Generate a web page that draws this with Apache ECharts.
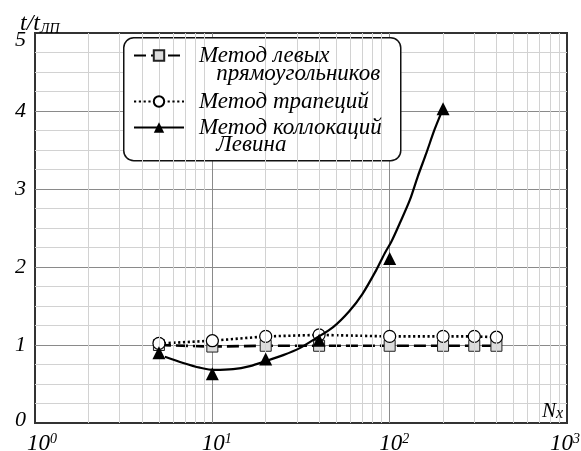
<!DOCTYPE html>
<html><head><meta charset="utf-8">
<script src="https://cdn.jsdelivr.net/npm/echarts@6/dist/echarts.min.js"></script>
<style>html,body{margin:0;padding:0;background:#fff}#c{width:581px;height:451px}</style>
</head><body><div id="c"></div>
<script>
// Data
const nLeft = [5, 10, 20, 40, 100, 200, 300, 400];
const tLeft = [1.0, 0.98, 0.99, 0.99, 0.99, 0.99, 0.99, 0.99];
const nTrap = [5, 10, 20, 40, 100, 200, 300, 400];
const tTrap = [1.02, 1.055, 1.11, 1.13, 1.11, 1.11, 1.11, 1.10];
const nLevin = [5, 10, 20, 40, 100, 200];
const tLevin = [0.90, 0.63, 0.82, 1.06, 2.11, 4.03];
// fitted curve for Levin method
const nFit = [5.4, 6.85, 8.5, 10.3, 13.1, 16.3, 19.8, 25.1, 31.1, 38.6, 48, 59, 70, 84, 94, 102, 114, 130, 144, 161, 179, 200];
const tFit = [0.85, 0.77, 0.71, 0.68, 0.69, 0.73, 0.79, 0.87, 0.96, 1.09, 1.23, 1.43, 1.65, 1.96, 2.18, 2.32, 2.56, 2.86, 3.16, 3.46, 3.76, 4.03];
const minorGridX = [2,3,4,5,6,7,8,9,20,30,40,50,60,70,80,90,200,300,400,500,600,700,800,900];
const xTickValues = [1, 10, 100, 1000];
const yTickValues = [0, 1, 2, 3, 4, 5];
const names = ['Метод левых\n   прямоугольников', 'Метод трапеций', 'Метод коллокаций\n   Левина'];

const FONT = 'Liberation Serif';
const zip = (a, b) => a.map((v, i) => [v, b[i]]);
const it = (size, extra) => Object.assign({fontFamily: FONT, fontStyle: 'italic', fontWeight: 'normal', fontSize: size, color: '#000'}, extra || {});

const chart = echarts.init(document.getElementById('c'), null, {renderer: 'canvas'});
const baseLegend = {
  orient: 'vertical', padding: 0, itemWidth: 50, itemHeight: 13, z: 10, selectedMode: false,
  textStyle: it(23, {lineHeight: 18, padding: [0, 0, 0, 10]})
};
const xMin = xTickValues[0], xMax = xTickValues[xTickValues.length - 1];
const yMin = yTickValues[0], yMax = yTickValues[yTickValues.length - 1];
chart.setOption({
  animation: false,
  title: [
    {left: 15, top: 7, text: '{t|t/t}{s|ЛП}',
     textStyle: {fontWeight: 'normal', rich: {t: it(24), s: it(14, {verticalAlign: 'bottom'})}}},
    {left: 537, top: 396, text: '{n|N}{s|x}',
     textStyle: {fontWeight: 'normal', rich: {n: it(21), s: it(16, {verticalAlign: 'bottom'})}}}
  ],
  grid: {left: 35, right: 14, top: 33, bottom: 28, show: true, borderColor: '#333', borderWidth: 2,
         containLabel: false, outerBoundsMode: 'none'},
  xAxis: {
    type: 'log', logBase: 10, min: xMin, max: xMax,
    axisLine: {show: false}, axisTick: {show: false},
    axisLabel: {
      margin: 9, color: '#000',
      formatter: v => {
        const e = Math.round(Math.log10(v));
        if (v === xMin) return '{b0|10}{s|' + e + '}';
        if (v === xMax) return '{b|10}{s3|' + e + '}';
        return '{b1|10}{s|' + e + '}';
      },
      rich: {
        b: it(23), b0: it(23, {padding: [0, 0, 0, 14]}), b1: it(23, {padding: [0, 0, 0, 9]}),
        s: it(14, {verticalAlign: 'top'}), s3: it(14, {verticalAlign: 'top', padding: [0, 4, 0, 0]})
      }
    },
    splitLine: {show: true, showMinLine: false, showMaxLine: false, lineStyle: {color: '#8a8a8a', width: 1}}
  },
  yAxis: {
    type: 'value', min: yMin, max: yMax, interval: 1,
    axisLine: {show: false}, axisTick: {show: false},
    axisLabel: {
      margin: 9, color: '#000',
      formatter: v => v === yMax ? '{lo|' + v + '}' : (v === yMin ? '{hi|' + v + '}' : '{n|' + v + '}'),
      rich: {n: it(22), lo: it(22, {padding: [14, 0, 0, 0]}), hi: it(22, {padding: [0, 0, 5, 0]})}
    },
    splitLine: {show: true, showMinLine: false, showMaxLine: false, lineStyle: {color: '#8a8a8a', width: 1}},
    minorTick: {show: false, splitNumber: 4},
    minorSplitLine: {show: true, lineStyle: {color: '#d2d2d2', width: 1}}
  },
  legend: [
    Object.assign({}, baseLegend, {left: 133, top: 26, formatter: n => ' \n' + n, data: [{name: names[0]}]}),
    Object.assign({}, baseLegend, {left: 133, top: 90, data: [{name: names[1]}]}),
    Object.assign({}, baseLegend, {left: 133, top: 99, textStyle: it(23, {lineHeight: 17, padding: [0, 0, 0, 10]}),
      formatter: n => ' \n' + n, data: [{name: names[2],
      lineStyle: {width: 2, color: '#000', opacity: 1, type: 'solid'}}]})
  ],
  graphic: [{
    type: 'rect', left: 123, top: 37, z: 3,
    shape: {width: 277, height: 123, r: 10},
    style: {fill: '#fff', stroke: '#111', lineWidth: 1.5}
  }],
  series: [
    {
      name: 'grid', type: 'line', data: [], z: 1, silent: true,
      markLine: {
        silent: true, symbol: 'none', label: {show: false}, animation: false,
        lineStyle: {color: '#d2d2d2', width: 1, type: 'solid'},
        emphasis: {disabled: true},
        data: minorGridX.map(v => ({xAxis: v}))
      }
    },
    {
      name: names[0], type: 'line', data: zip(nLeft, tLeft), z: 3,
      symbol: 'rect', symbolSize: 11,
      lineStyle: {color: '#000', width: 2.6, type: [12, 5]},
      itemStyle: {color: '#dcdcdc', borderColor: '#222', borderWidth: 1}
    },
    {
      name: names[1], type: 'line', data: zip(nTrap, tTrap), z: 4,
      symbol: 'circle', symbolSize: 12,
      lineStyle: {color: '#000', width: 2.6, type: [2.2, 2.6]},
      itemStyle: {color: '#fff', borderColor: '#000', borderWidth: 1.2}
    },
    {
      name: 'fit', type: 'line', data: zip(nFit, tFit), z: 5, smooth: 0.3,
      symbol: 'none', lineStyle: {color: '#000', width: 2.2}
    },
    {
      name: names[2], type: 'line', data: zip(nLevin, tLevin), z: 6,
      symbol: 'triangle', symbolSize: 13,
      lineStyle: {color: '#000', width: 0},
      itemStyle: {color: '#000'}
    }
  ]
});
</script></body></html>
